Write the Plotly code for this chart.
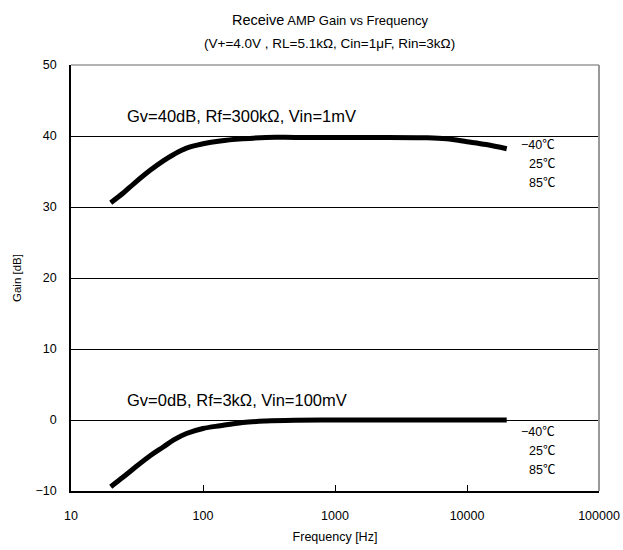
import plotly.graph_objects as go

# Data
freq_hz = [20, 25, 30, 40, 50, 60, 75, 100, 135, 200, 300, 500, 1000, 2000, 5000, 7000, 10000, 14000, 20000]
gain_40db = [30.6, 32.0, 33.3, 35.2, 36.5, 37.4, 38.3, 38.9, 39.3, 39.6, 39.8, 39.8, 39.8, 39.8, 39.75, 39.6, 39.2, 38.8, 38.2]
gain_0db = [-9.4, -8.0, -6.8, -5.0, -3.8, -2.8, -1.9, -1.2, -0.8, -0.35, -0.15, -0.05, 0.0, 0.0, 0.0, 0.0, 0.0, 0.0, 0.0]

x_tickvals = [10, 100, 1000, 10000, 100000]
x_ticktext = ["10", "100", "1000", "10000", "100000"]
y_tickvals = [-10, 0, 10, 20, 30, 40, 50]
y_ticktext = ["\u221210", "0", "10", "20", "30", "40", "50"]

temp_labels = ["\u221240\u2103", "25\u2103", "85\u2103"]
curve_labels = ["Gv=40dB, Rf=300k\u03a9, Vin=1mV", "Gv=0dB, Rf=3k\u03a9, Vin=100mV"]

FONT = "Liberation Sans, Arial, Noto Sans CJK JP, sans-serif"

fig = go.Figure()
for g in (gain_40db, gain_0db):
    fig.add_trace(go.Scatter(x=freq_hz, y=g, mode="lines",
                             line=dict(color="black", width=5, shape="spline"),
                             showlegend=False, hoverinfo="skip"))

# Curve labels
fig.add_annotation(x=1.41, y=42.8, xref="x", yref="y", text=curve_labels[0],
                   showarrow=False, xanchor="left", yanchor="middle",
                   font=dict(size=16.5, color="black", family=FONT))
fig.add_annotation(x=1.41, y=2.8, xref="x", yref="y", text=curve_labels[1],
                   showarrow=False, xanchor="left", yanchor="middle",
                   font=dict(size=16.5, color="black", family=FONT))

# Temperature labels
for base in (38.7, -1.7):
    for i, t in enumerate(temp_labels):
        fig.add_annotation(x=4.68, y=base - i * 2.68, xref="x", yref="y", text=t,
                           showarrow=False, xanchor="right", yanchor="middle",
                           font=dict(size=12.5, color="black", family=FONT))

# Title
fig.add_annotation(x=0.49, y=1.0, xref="paper", yref="paper", yshift=45,
                   text="<span style='font-size:14.5px'>Receive</span> AMP Gain vs Frequency",
                   showarrow=False, xanchor="center", yanchor="middle",
                   font=dict(size=13, color="black", family=FONT))
fig.add_annotation(x=0.49, y=1.0, xref="paper", yref="paper", yshift=22,
                   text="(V+=4.0V , RL=5.1k\u03a9, Cin=1\u03bcF, Rin=3k\u03a9)",
                   showarrow=False, xanchor="center", yanchor="middle",
                   font=dict(size=13.5, color="black", family=FONT))

# Grey top/right border
fig.add_shape(type="line", xref="paper", yref="paper", x0=0, x1=1, y0=1, y1=1,
              line=dict(color="#999999", width=1.5))
fig.add_shape(type="line", xref="paper", yref="paper", x0=1, x1=1, y0=0, y1=1,
              line=dict(color="#999999", width=2))

fig.update_xaxes(type="log", range=[1, 5], tickvals=x_tickvals, ticktext=x_ticktext,
                 ticks="inside", ticklen=6, tickcolor="black", showgrid=False,
                 showline=True, linecolor="black", linewidth=1.5, zeroline=False,
                 automargin=False, ticklabelstandoff=12,
                 tickfont=dict(size=12.5, color="black", family=FONT),
                 title=dict(text="Frequency [Hz]", standoff=10,
                            font=dict(size=12.5, color="black", family=FONT)))
fig.update_yaxes(range=[-10, 50], tickvals=y_tickvals, ticktext=y_ticktext,
                 ticks="", showgrid=True, gridcolor="black", gridwidth=1,
                 showline=True, linecolor="black", linewidth=1.5, zeroline=False,
                 automargin=False, ticklabelstandoff=10,
                 tickfont=dict(size=12.5, color="black", family=FONT),
                 title=dict(text="Gain [dB]", standoff=12,
                            font=dict(size=11.5, color="black", family=FONT)))

fig.update_layout(width=623, height=550,
                  margin=dict(l=71, r=24, t=65, b=59),
                  paper_bgcolor="white", plot_bgcolor="white",
                  font=dict(family=FONT, color="black"))

fig.write_html("out.html")
